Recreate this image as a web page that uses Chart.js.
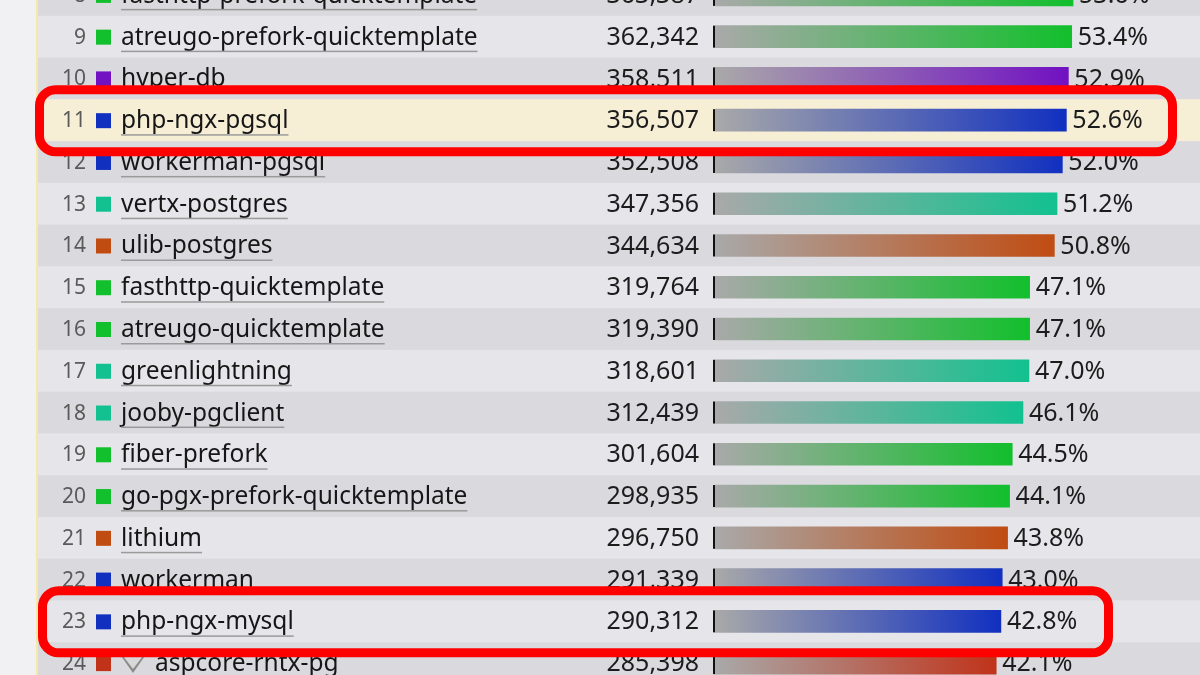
<!DOCTYPE html>
<html>
<head>
<meta charset="utf-8">
<script src="https://cdn.jsdelivr.net/npm/chart.js@4/dist/chart.umd.min.js"></script>
<style>
  html, body { margin: 0; padding: 0; width: 1200px; height: 675px; overflow: hidden; background: #f1f1f3; }
  #wrap { position: absolute; left: 0; top: -26px; width: 1200px; height: 710px; }
</style>
</head>
<body>
<div id="wrap"><canvas id="bars" width="1200" height="710"></canvas></div>
<script>
// rows visible in the screenshot (rank 8 and 24 are cut off)
var ranks = [8, 9, 10, 11, 12, 13, 14, 15, 16, 17, 18, 19, 20, 21, 22, 23, 24];
var names = ["fasthttp-prefork-quicktemplate", "atreugo-prefork-quicktemplate", "hyper-db",
    "php-ngx-pgsql", "workerman-pgsql", "vertx-postgres", "ulib-postgres",
    "fasthttp-quicktemplate", "atreugo-quicktemplate", "greenlightning", "jooby-pgclient",
    "fiber-prefork", "go-pgx-prefork-quicktemplate", "lithium", "workerman",
    "php-ngx-mysql", "aspcore-rhtx-pg"];
var requests = [363387, 362342, 358511, 356507, 352508, 347356, 344634, 319764, 319390,
    318601, 312439, 301604, 298935, 296750, 291339, 290312, 285398];
var percents = [53.6, 53.4, 52.9, 52.6, 52.0, 51.2, 50.8, 47.1, 47.1, 47.0, 46.1, 44.5,
    44.1, 43.8, 43.0, 42.8, 42.1];
var langColors = ["#12bf2c", "#12bf2c", "#7111c2", "#1130c0", "#1130c0", "#12c18f", "#c04c12",
    "#12bf2c", "#12bf2c", "#12c18f", "#12c18f", "#12bf2c", "#12bf2c", "#c04c12", "#1130c0",
    "#1130c0", "#c0331a"];
var highlighted = [11, 23];

var FONT = '"Noto Sans", "Open Sans", sans-serif';

function rowCenter(chart, i) {
    return chart.scales.y.getPixelForValue(i);
}

var tablePlugin = {
    id: 'table',
    beforeDatasetsDraw: function (chart) {
        var ctx = chart.ctx;
        var h = chart.height / ranks.length;
        ctx.save();
        ctx.fillStyle = '#f1f1f3';
        ctx.fillRect(0, 0, 1200, chart.height);
        for (var i = 0; i < ranks.length; i++) {
            var c = rowCenter(chart, i);
            if (ranks[i] == 11) {
                ctx.fillStyle = '#f6efd6';
            } else {
                ctx.fillStyle = (ranks[i] % 2 == 1) ? '#e6e6ea' : '#dadade';
            }
            ctx.fillRect(38, c - h / 2, 1200 - 38, h + 0.5);
        }
        ctx.fillStyle = '#f4e9a6';
        ctx.fillRect(36, 0, 2, chart.height);

        var x0 = chart.scales.x.getPixelForValue(0);
        for (var i = 0; i < ranks.length; i++) {
            var c = rowCenter(chart, i) + 1;
            ctx.textBaseline = 'middle';
            // rank
            ctx.font = '21px ' + FONT;
            ctx.fillStyle = '#5a5a5a';
            ctx.textAlign = 'right';
            ctx.fillText(String(ranks[i]), 86, c);
            // colour square
            ctx.fillStyle = langColors[i];
            ctx.fillRect(96, c - 8, 15, 15);
            // name with underline
            var nx = 121;
            if (ranks[i] == 24) {
                ctx.fillStyle = '#8a8a8a';
                ctx.beginPath();
                ctx.moveTo(119, c - 11);
                ctx.lineTo(147, c - 11);
                ctx.lineTo(133, c + 9);
                ctx.closePath();
                ctx.fill();
                ctx.fillStyle = '#d8d8d8';
                ctx.beginPath();
                ctx.moveTo(123, c - 8);
                ctx.lineTo(143, c - 8);
                ctx.lineTo(133, c + 5);
                ctx.closePath();
                ctx.fill();
                nx = 155;
            }
            ctx.font = '24.5px ' + FONT;
            ctx.textAlign = 'left';
            ctx.fillStyle = '#161616';
            ctx.fillText(names[i], nx, c);
            var w = ctx.measureText(names[i]).width;
            ctx.fillStyle = '#9a9a9a';
            ctx.fillRect(nx, c + 13, w, 1.5);
            // requests
            ctx.font = '25px ' + FONT;
            ctx.fillStyle = '#1c1c1c';
            ctx.textAlign = 'right';
            ctx.fillText(requests[i].toLocaleString('en-US'), 699, c);
            // tick at bar start
            ctx.fillStyle = '#111';
            ctx.fillRect(x0 - 2, c - 12, 2, 22);
        }
        ctx.restore();
    },
    afterDatasetsDraw: function (chart) {
        var ctx = chart.ctx;
        ctx.save();
        ctx.font = '25px ' + FONT;
        ctx.textBaseline = 'middle';
        ctx.textAlign = 'left';
        ctx.fillStyle = '#1c1c1c';
        for (var i = 0; i < ranks.length; i++) {
            var c = rowCenter(chart, i) + 1;
            var xe = chart.scales.x.getPixelForValue(percents[i]);
            ctx.fillText(percents[i].toFixed(1) + '%', xe + 6, c);
        }
        // red boxes round the two php-ngx rows
        ctx.strokeStyle = '#ff0000';
        ctx.lineWidth = 9;
        for (var k = 0; k < highlighted.length; k++) {
            var i = ranks.indexOf(highlighted[k]);
            var c = rowCenter(chart, i);
            var right = highlighted[k] == 11 ? 1172.5 : 1108.5;
            var left = highlighted[k] == 11 ? 39.5 : 42.5;
            ctx.beginPath();
            ctx.roundRect(left, c - 30.5, right - left, 62, 16);
            ctx.stroke();
        }
        ctx.restore();
    }
};

new Chart(document.getElementById('bars'), {
    type: 'bar',
    data: {
        labels: ranks.map(String),
        datasets: [{
            data: percents,
            barThickness: 22,
            backgroundColor: function (context) {
                var chart = context.chart;
                var i = context.dataIndex;
                if (!chart.chartArea || i === undefined) {
                    return langColors[i || 0];
                }
                var x0 = chart.scales.x.getPixelForValue(0);
                var x1 = chart.scales.x.getPixelForValue(percents[i]);
                var g = chart.ctx.createLinearGradient(x0, 0, x1, 0);
                g.addColorStop(0, '#a9a9a9');
                g.addColorStop(1, langColors[i]);
                return g;
            }
        }]
    },
    options: {
        indexAxis: 'y',
        responsive: false,
        animation: false,
        devicePixelRatio: 1,
        layout: { padding: { left: 715, right: 0, top: 0, bottom: 0 } },
        scales: {
            x: { display: false, min: 0, max: (1200 - 715) / 6.68 },
            y: { display: false }
        },
        plugins: {
            legend: { display: false },
            tooltip: { enabled: false }
        }
    },
    plugins: [tablePlugin]
});
</script>
</body>
</html>
